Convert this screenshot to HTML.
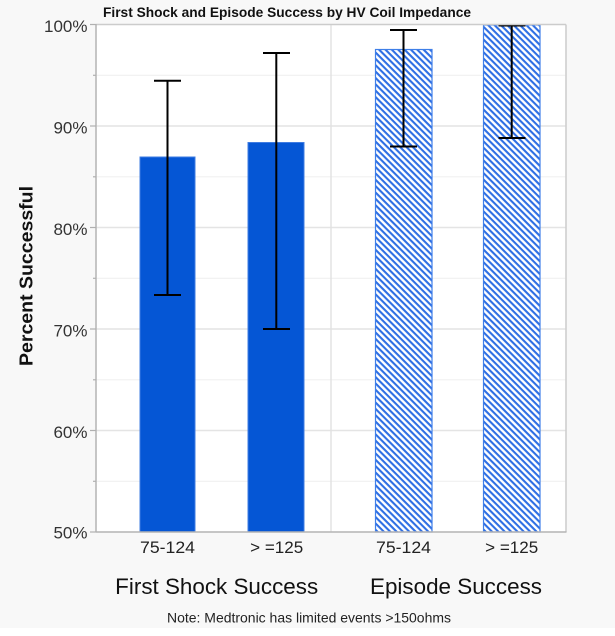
<!DOCTYPE html>
<html>
<head>
<meta charset="utf-8">
<style>
  html,body{margin:0;padding:0;background:#f8f8f8;}
  body{width:615px;height:636px;overflow:hidden;}
  svg{display:block;}
  text{font-family:"Liberation Sans",Arial,sans-serif;}
</style>
</head>
<body>
<svg width="615" height="636" viewBox="0 0 615 636" xmlns="http://www.w3.org/2000/svg">
  <defs>
    <pattern id="hatch" patternUnits="userSpaceOnUse" width="4.5" height="4.5" patternTransform="rotate(45)">
      <rect x="0" y="0" width="4.5" height="4.5" fill="#ffffff"/>
      <rect x="0" y="0" width="4.5" height="2.1" fill="#2f6fe4"/>
    </pattern>
  </defs>

  <rect x="0" y="0" width="615" height="636" fill="#f8f8f8"/>
  <rect x="0" y="628" width="615" height="8" fill="#ffffff"/>

  <!-- title -->
  <text x="103" y="17" font-size="13.5" font-weight="bold" fill="#111" textLength="368" lengthAdjust="spacingAndGlyphs">First Shock and Episode Success by HV Coil Impedance</text>

  <!-- plot area -->
  <rect x="96" y="24.5" width="470" height="507.5" fill="#ffffff"/>

  <!-- minor gridlines -->
  <g stroke="#f0f0f0" stroke-width="1.2">
    <line x1="96" y1="75.3" x2="566" y2="75.3"/>
    <line x1="96" y1="176.8" x2="566" y2="176.8"/>
    <line x1="96" y1="278.3" x2="566" y2="278.3"/>
    <line x1="96" y1="379.8" x2="566" y2="379.8"/>
    <line x1="96" y1="481.3" x2="566" y2="481.3"/>
  </g>
  <!-- major gridlines -->
  <g stroke="#e4e4e4" stroke-width="1.4">
    <line x1="96" y1="126" x2="566" y2="126"/>
    <line x1="96" y1="227.5" x2="566" y2="227.5"/>
    <line x1="96" y1="329" x2="566" y2="329"/>
    <line x1="96" y1="430.5" x2="566" y2="430.5"/>
  </g>
  <!-- group separator -->
  <line x1="331" y1="24.5" x2="331" y2="532" stroke="#e2e2e2" stroke-width="1.4"/>

  <!-- solid bars -->
  <rect x="140" y="157" width="55" height="375" fill="#0556d5" stroke="#3f7ce2" stroke-width="1"/>
  <rect x="248" y="142.5" width="56" height="389.5" fill="#0556d5" stroke="#3f7ce2" stroke-width="1"/>

  <!-- hatched bars -->
  <rect x="375.5" y="49.5" width="56.5" height="482.5" fill="url(#hatch)" stroke="#3f7fe8" stroke-width="1.2"/>
  <rect x="483.5" y="25" width="56.5" height="507" fill="url(#hatch)" stroke="#3f7fe8" stroke-width="1.2"/>

  <!-- error bars -->
  <g stroke="#000" stroke-width="2" fill="none">
    <line x1="167.5" y1="80.7" x2="167.5" y2="295"/>
    <line x1="154" y1="80.7" x2="181" y2="80.7"/>
    <line x1="154" y1="295" x2="181" y2="295"/>

    <line x1="276.3" y1="53" x2="276.3" y2="329"/>
    <line x1="263" y1="53" x2="290" y2="53"/>
    <line x1="263" y1="329" x2="290" y2="329"/>

    <line x1="403.5" y1="30" x2="403.5" y2="146.5"/>
    <line x1="390" y1="30" x2="417" y2="30"/>
    <line x1="390" y1="146.5" x2="417" y2="146.5"/>

    <line x1="511.7" y1="25.5" x2="511.7" y2="138"/>
    <line x1="498.5" y1="25.5" x2="525.5" y2="25.5"/>
    <line x1="498.5" y1="138" x2="525.5" y2="138"/>
  </g>

  <!-- frame -->
  <line x1="96" y1="24.5" x2="566" y2="24.5" stroke="#cccccc" stroke-width="1.5"/>
  <line x1="566" y1="24.5" x2="566" y2="532" stroke="#cccccc" stroke-width="1.5"/>
  <line x1="96" y1="24" x2="96" y2="532.5" stroke="#b4b4b4" stroke-width="1.5"/>
  <line x1="96" y1="532" x2="566.5" y2="532" stroke="#b4b4b4" stroke-width="1.5"/>

  <!-- ticks -->
  <g stroke="#b0b0b0" stroke-width="1.2">
    <line x1="90" y1="24.5" x2="96" y2="24.5"/>
    <line x1="90" y1="126" x2="96" y2="126"/>
    <line x1="90" y1="227.5" x2="96" y2="227.5"/>
    <line x1="90" y1="329" x2="96" y2="329"/>
    <line x1="90" y1="430.5" x2="96" y2="430.5"/>
    <line x1="90" y1="532" x2="96" y2="532"/>
    <line x1="93" y1="75.3" x2="96" y2="75.3"/>
    <line x1="93" y1="176.8" x2="96" y2="176.8"/>
    <line x1="93" y1="278.3" x2="96" y2="278.3"/>
    <line x1="93" y1="379.8" x2="96" y2="379.8"/>
    <line x1="93" y1="481.3" x2="96" y2="481.3"/>
  </g>

  <!-- y tick labels -->
  <g font-size="17" fill="#333" text-anchor="end">
    <text x="87.5" y="32">100%</text>
    <text x="87.5" y="133.5">90%</text>
    <text x="87.5" y="235">80%</text>
    <text x="87.5" y="336.5">70%</text>
    <text x="87.5" y="438">60%</text>
    <text x="87.5" y="538.5">50%</text>
  </g>

  <!-- y axis title -->
  <text transform="translate(32.5,276) rotate(-90)" text-anchor="middle" font-size="18" font-weight="bold" fill="#111" textLength="180" lengthAdjust="spacingAndGlyphs">Percent Successful</text>

  <!-- x tick labels -->
  <g font-size="17" fill="#222" text-anchor="middle">
    <text x="167.5" y="553" textLength="55" lengthAdjust="spacingAndGlyphs">75-124</text>
    <text x="276.7" y="553" textLength="53" lengthAdjust="spacingAndGlyphs">&gt; =125</text>
    <text x="403.5" y="553" textLength="55" lengthAdjust="spacingAndGlyphs">75-124</text>
    <text x="511.7" y="553" textLength="53" lengthAdjust="spacingAndGlyphs">&gt; =125</text>
  </g>

  <!-- group labels -->
  <g font-size="22" fill="#111" text-anchor="middle">
    <text x="216.7" y="594" textLength="203" lengthAdjust="spacingAndGlyphs">First Shock Success</text>
    <text x="456" y="594" textLength="172" lengthAdjust="spacingAndGlyphs">Episode Success</text>
  </g>

  <!-- note -->
  <text x="309" y="622.5" font-size="14" fill="#222" text-anchor="middle" textLength="284" lengthAdjust="spacingAndGlyphs">Note: Medtronic has limited events &gt;150ohms</text>
</svg>
</body>
</html>
